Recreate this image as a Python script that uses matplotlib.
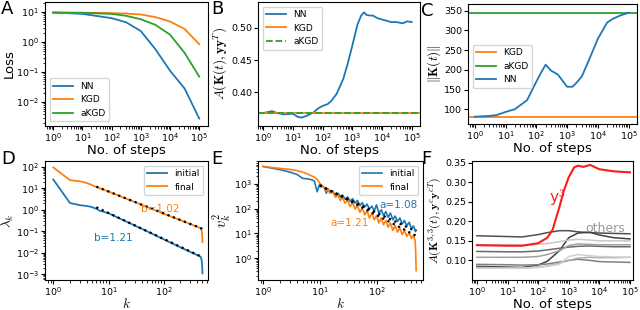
import numpy as np
import matplotlib
matplotlib.use("Agg")
import matplotlib.pyplot as plt
from matplotlib.ticker import LogLocator, NullFormatter

plt.rcParams['mathtext.fontset'] = 'cm'
plt.rcParams['font.family'] = ['DejaVu Sans']

# ---------------- data ----------------
# Panel A: loss
a_t = [1, 10, 100, 316, 1000, 3162, 10000, 31623, 100000]
a_nn = [9.5, 8.6, 6.2, 4.5, 2.3, 0.57, 0.11, 0.028, 0.0028]
a_kgd = [9.5, 9.4, 9.1, 8.8, 8.2, 6.7, 4.8, 2.7, 0.84]
a_akgd = [9.5, 9.3, 8.6, 7.4, 5.7, 3.7, 1.75, 0.43, 0.07]

# Panel B: alignment
b_t = [1, 2, 3, 5, 10, 15, 20, 30, 50, 70, 100, 150, 200, 300, 500, 700, 1000,
       1500, 2000, 2500, 3000, 4000, 5000, 7000, 10000, 20000, 30000, 50000, 70000, 100000]
b_nn = [0.368, 0.371, 0.368, 0.366, 0.367, 0.362, 0.361, 0.364, 0.369, 0.375, 0.379,
        0.382, 0.387, 0.398, 0.421, 0.444, 0.472, 0.505, 0.519, 0.524, 0.520, 0.519,
        0.519, 0.515, 0.513, 0.509, 0.509, 0.507, 0.510, 0.509]
b_kgd = 0.368
b_akgd = 0.368

# Panel C: kernel norm
c_t = [1, 3, 5, 10, 20, 50, 100, 150, 200, 300, 500, 1000, 1500, 2000, 3000, 5000,
       10000, 20000, 30000, 50000, 70000, 100000]
c_nn = [81, 83, 85, 93, 100, 123, 170, 196, 213, 198, 188, 157, 157, 167, 183, 223,
        279, 320, 329, 337, 341, 345]
c_kgd = 81
c_akgd = 345

# Panel D: eigenvalue spectra (log10 values)
d_k = [1, 2, 3, 4, 5, 6, 7, 8, 10, 20, 50, 100, 200, 300, 400, 450, 470, 485, 495, 500]
d_init_log = [1.41, 0.32, 0.22, 0.18, 0.13, 0.05, -0.05, -0.08, -0.16, -0.52, -1.0, -1.37,
              -1.74, -1.95, -2.10, -2.16, -2.2, -2.35, -2.6, -2.95]
d_final_log = [1.97, 1.38, 1.33, 1.25, 1.15, 1.06, 1.0, 0.95, 0.85, 0.54, 0.13, -0.18,
               -0.48, -0.66, -0.78, -0.84, -0.88, -0.98, -1.2, -1.5]
d_fit_k = [6, 500]
d_fit_init_log = [0.12, -2.2]
d_fit_final_log = [1.08, -0.88]

# Panel E: target projections (log10 values)
e_k = [1, 2, 3, 4, 5, 6, 7, 8, 9, 10, 11, 12, 13, 14, 15, 17, 19, 21, 23, 25, 28, 31, 34,
       38, 42, 46, 51, 56, 62, 68, 75, 83, 91, 100, 110, 121, 133, 146, 160, 176, 194, 213,
       234, 258, 283, 311, 342, 376, 413, 450, 480, 490, 500]
e_init_log = [3.70, 3.57, 3.47, 3.37, 3.22, 3.20, 3.17, 3.12, 2.68, 3.00, 2.92, 2.85, 2.62,
              2.80, 2.66, 2.70, 2.52, 2.62, 2.48, 2.55, 2.38, 2.47, 2.30, 2.40, 2.22, 2.33,
              2.12, 2.24, 2.06, 2.18, 1.98, 2.10, 1.90, 2.15, 1.82, 1.95, 1.72, 1.88, 1.65,
              1.82, 1.55, 1.70, 1.48, 1.62, 1.38, 1.52, 1.30, 1.45, 1.20, 1.30, 1.10, 1.15, 1.12]
e_final_log = [3.70, 3.62, 3.58, 3.53, 3.47, 3.40, 3.33, 3.27, 3.18, 3.02, 2.92, 2.85, 2.70,
               2.78, 2.62, 2.66, 2.45, 2.55, 2.32, 2.45, 2.22, 2.35, 2.08, 2.24, 1.98, 2.13,
               1.85, 2.02, 1.75, 1.92, 1.62, 1.82, 1.55, 1.72, 1.42, 1.62, 1.35, 1.52, 1.25,
               1.42, 1.12, 1.32, 1.05, 1.22, 0.95, 1.12, 0.88, 1.02, 0.80, 0.92, 0.70, 0.30, -0.50]
e_fit_k = [10, 500]
e_fit_init_log = [2.92, 1.08]
e_fit_final_log = [2.95, 0.90]

# Panel F: class-wise alignment
f_t = [1, 10, 30, 100, 200, 500, 1000, 2000, 5000, 10000, 30000, 100000]
f_y3_t = [1, 10, 30, 100, 200, 300, 500, 700, 1000, 1500, 2000, 3000, 5000, 10000, 30000, 100000]
f_y3 = [0.139, 0.1375, 0.1375, 0.144, 0.158, 0.179, 0.2375, 0.279, 0.3125, 0.3375,
        0.342, 0.339, 0.344, 0.333, 0.3275, 0.325]
f_others = [
    [0.163, 0.161, 0.160, 0.166, 0.171, 0.176, 0.176, 0.173, 0.171, 0.170, 0.169, 0.168],
    [0.085, 0.083, 0.082, 0.088, 0.098, 0.125, 0.158, 0.170, 0.172, 0.165, 0.158, 0.155],
    [0.123, 0.122, 0.122, 0.124, 0.127, 0.131, 0.134, 0.136, 0.137, 0.136, 0.135, 0.135],
    [0.108, 0.108, 0.108, 0.110, 0.115, 0.125, 0.138, 0.142, 0.141, 0.140, 0.140, 0.140],
    [0.140, 0.140, 0.140, 0.141, 0.143, 0.148, 0.152, 0.154, 0.152, 0.150, 0.150, 0.150],
    [0.090, 0.089, 0.088, 0.089, 0.091, 0.096, 0.100, 0.103, 0.100, 0.097, 0.096, 0.095],
    [0.082, 0.081, 0.081, 0.083, 0.086, 0.093, 0.100, 0.106, 0.108, 0.107, 0.107, 0.108],
    [0.080, 0.080, 0.080, 0.082, 0.085, 0.090, 0.110, 0.115, 0.112, 0.110, 0.109, 0.108],
]
f_other_colors = ['#505050', '#404040', '#6a6a6a', '#a0a0a0', '#c8c8c8', '#808080', '#b0b0b0', '#d0d0d0']

# ---------------- figure ----------------
W, H = 640, 310
fig = plt.figure(figsize=(6.4, 3.1), dpi=100)


def px(l, r, t, b):
    return fig.add_axes([l / W, (H - b) / H, (r - l) / W, (b - t) / H])


TS = 6.8
LS = 9.5
C0, C1, C2 = '#1f77b4', '#ff7f0e', '#2ca02c'


def logaxis(axis):
    axis.set_major_locator(LogLocator(base=10, numticks=15))
    axis.set_minor_locator(LogLocator(base=10, subs=np.arange(2, 10), numticks=15))
    axis.set_minor_formatter(NullFormatter())


def style(ax):
    ax.tick_params(labelsize=TS, length=3, pad=1.2)
    ax.tick_params(which='minor', length=1.8)


def letter(x, y, s):
    fig.text(x / W, 1 - y / H, s, fontsize=13, va='top', ha='left')


BOT = 280  # bottom row axes bottom (px)

# A
ax = px(45, 208, 2, 126)
ax.plot(a_t, a_nn, color=C0, label='NN', lw=1.3)
ax.plot(a_t, a_kgd, color=C1, label='KGD', lw=1.3)
ax.plot(a_t, a_akgd, color=C2, label='aKGD', lw=1.3)
ax.set_xscale('log'); ax.set_yscale('log')
logaxis(ax.xaxis); logaxis(ax.yaxis)
ax.set_xlim(10 ** -0.28, 10 ** 5.3); ax.set_ylim(10 ** -2.8, 10 ** 1.33)
ax.set_xlabel('No. of steps', fontsize=LS, labelpad=0)
ax.set_ylabel('Loss', fontsize=LS, labelpad=0)
ax.legend(loc='lower left', fontsize=6.5, handlelength=2.2)
style(ax)
letter(1, 0, 'A')

# B
ax = px(258, 420, 2, 126)
ax.plot(b_t, b_nn, color=C0, label='NN', lw=1.3)
ax.axhline(b_kgd, color=C1, label='KGD', lw=1.3)
ax.axhline(b_akgd, color=C2, ls='--', label='aKGD', lw=1.3)
ax.set_xscale('log')
logaxis(ax.xaxis)
ax.set_xlim(10 ** -0.17, 10 ** 5.28); ax.set_ylim(0.348, 0.540)
ax.set_yticks([0.40, 0.45, 0.50])
ax.set_xlabel('No. of steps', fontsize=LS, labelpad=0)
ax.set_ylabel(r'$A(\mathbf{K}(t),\mathbf{y}\mathbf{y}^T)$', fontsize=LS, labelpad=1)
ax.legend(loc='upper left', fontsize=6.5, handlelength=2.2)
style(ax)
letter(211, 0, 'B')

# C
ax = px(468, 637, 4, 124)
ax.axhline(c_kgd, color=C1, label='KGD', lw=1.3)
ax.axhline(c_akgd, color=C2, label='aKGD', lw=1.3)
ax.plot(c_t, c_nn, color=C0, label='NN', lw=1.3)
ax.set_xscale('log')
logaxis(ax.xaxis)
ax.set_xlim(10 ** -0.22, 10 ** 5.27); ax.set_ylim(62.5, 367)
ax.set_yticks([100, 150, 200, 250, 300, 350])
ax.set_xlabel('No. of steps', fontsize=LS, labelpad=0)
ax.set_ylabel(r'$\|\mathbf{K}(t)\|$', fontsize=LS, labelpad=1)
ax.legend(loc='center left', bbox_to_anchor=(0.0, 0.48), fontsize=6.5, handlelength=2.2)
style(ax)
letter(421, 2, 'C')

# D
ax = px(45, 208, 161, BOT)
ax.plot(d_k, 10 ** np.array(d_init_log), color=C0, label='initial', lw=1.3)
ax.plot(d_k, 10 ** np.array(d_final_log), color=C1, label='final', lw=1.3)
ax.plot(d_fit_k, 10 ** np.array(d_fit_init_log), color='k', ls=':', lw=1.6)
ax.plot(d_fit_k, 10 ** np.array(d_fit_final_log), color='k', ls=':', lw=1.6)
ax.set_xscale('log'); ax.set_yscale('log')
logaxis(ax.xaxis); logaxis(ax.yaxis)
ax.set_xlim(10 ** -0.15, 10 ** 2.8); ax.set_ylim(10 ** -3.26, 10 ** 2.27)
ax.set_xlabel(r'$k$', fontsize=LS, labelpad=-1)
ax.set_ylabel(r'$\lambda_k$', fontsize=LS, labelpad=0)
ax.legend(loc='upper right', fontsize=6.5, handlelength=2.2)
fig.text(160 / W, 1 - 209 / H, 'b=1.02', color=C1, fontsize=7.5, ha='center', va='center')
fig.text(113 / W, 1 - 238 / H, 'b=1.21', color=C0, fontsize=7.5, ha='center', va='center')
style(ax)
letter(1, 150, 'D')

# E
ax = px(258, 423, 161, BOT)
ax.plot(e_k, 10 ** np.array(e_init_log), color=C0, label='initial', lw=1.2)
ax.plot(e_k, 10 ** np.array(e_final_log), color=C1, label='final', lw=1.2)
ax.plot(e_fit_k, 10 ** np.array(e_fit_init_log), color='k', ls=':', lw=1.6)
ax.plot(e_fit_k, 10 ** np.array(e_fit_final_log), color='k', ls=':', lw=1.6)
ax.set_xscale('log'); ax.set_yscale('log')
logaxis(ax.xaxis); logaxis(ax.yaxis)
ax.set_xlim(10 ** -0.09, 10 ** 2.82); ax.set_ylim(10 ** -0.88, 10 ** 3.92)
ax.set_xlabel(r'$k$', fontsize=LS, labelpad=-1)
ax.set_ylabel(r'$v_k^2$', fontsize=LS + 1, labelpad=1)
ax.legend(loc='upper right', fontsize=6.5, handlelength=2.2)
fig.text(399 / W, 1 - 205 / H, 'a=1.08', color=C0, fontsize=7.5, ha='center', va='center')
fig.text(350 / W, 1 - 223 / H, 'a=1.21', color=C1, fontsize=7.5, ha='center', va='center')
style(ax)
letter(211, 150, 'E')

# F
ax = px(472, 633, 161, BOT)
for vals, col in zip(f_others, f_other_colors):
    ax.plot(f_t, vals, color=col, lw=1.1)
ax.plot(f_y3_t, f_y3, color='#ff1a1a', lw=1.5)
ax.set_xscale('log')
logaxis(ax.xaxis)
ax.set_xlim(10 ** -0.16, 10 ** 5.1); ax.set_ylim(0.05, 0.354)
ax.set_yticks([0.10, 0.15, 0.20, 0.25, 0.30, 0.35])
ax.set_xlabel('No. of steps', fontsize=LS, labelpad=0)
ax.set_ylabel(r'$A(\mathbf{K}^{3,3}(t),\mathbf{y}^c\mathbf{y}^{cT})$', fontsize=8.5, labelpad=1)
fig.text(557 / W, 1 - 198 / H, r'y$^3$', color='#ff1a1a', fontsize=11, ha='center', va='center')
fig.text(605 / W, 1 - 228 / H, 'others', color='#999999', fontsize=9, ha='center', va='center')
style(ax)
letter(421, 150, 'F')

fig.savefig('out.png', dpi=100)
